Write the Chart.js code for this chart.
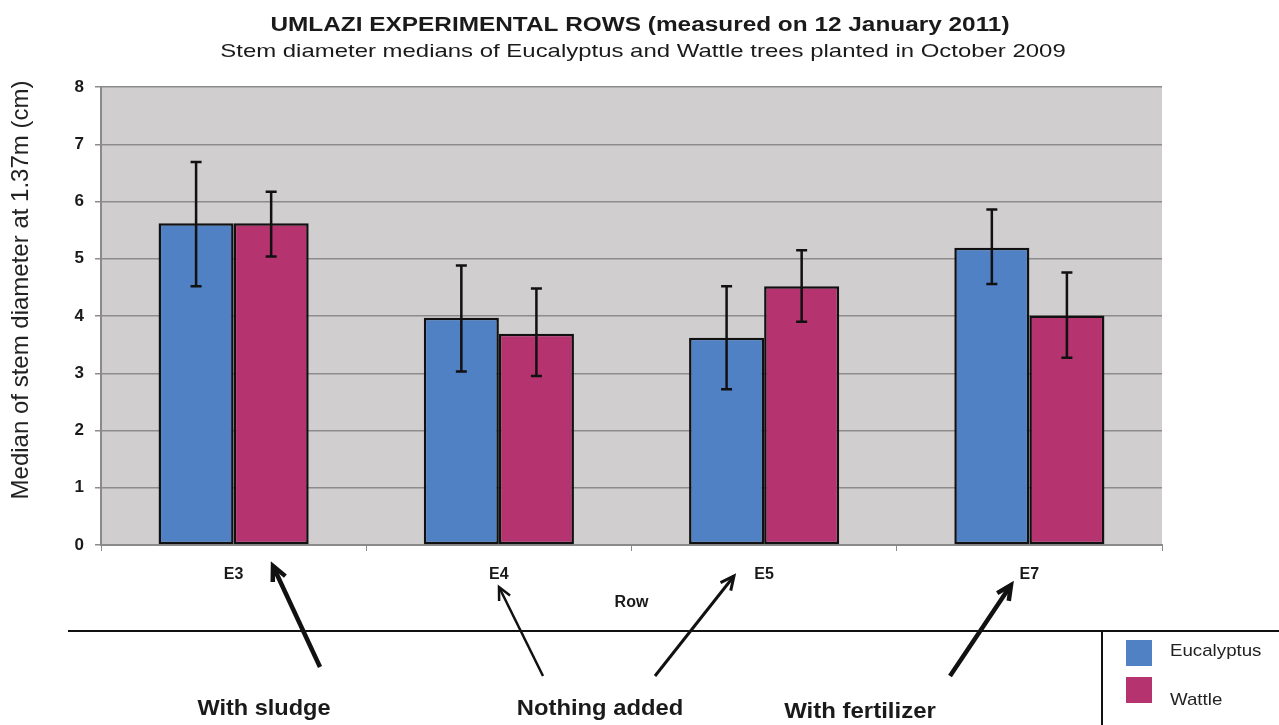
<!DOCTYPE html>
<html>
<head>
<meta charset="utf-8">
<title>Umlazi experimental rows</title>
<script src="https://cdn.jsdelivr.net/npm/chart.js@4.4.1/dist/chart.umd.min.js"></script>
<style>
  html, body { margin: 0; padding: 0; background: #fff; }
  #wrap { position: relative; width: 1279px; height: 725px; }
</style>
</head>
<body>
<div id="wrap"><canvas id="chart" width="1279" height="725"></canvas></div>
<script>
// ── Data ───────────────────────────────────────────────────
const rows = ['E3', 'E4', 'E5', 'E7'];
const eucalyptus = [5.62, 3.97, 3.62, 5.19];
const wattle     = [5.62, 3.69, 4.52, 4.01];
const eucLow     = [4.52, 3.03, 2.72, 4.56];
const eucHigh    = [6.69, 4.88, 4.52, 5.86];
const wattleLow  = [5.04, 2.95, 3.90, 3.27];
const wattleHigh = [6.17, 4.48, 5.15, 4.76];
const yTicks = [0, 1, 2, 3, 4, 5, 6, 7, 8];

const titleText = 'UMLAZI EXPERIMENTAL ROWS (measured on 12 January 2011)';
const subtitleText = 'Stem diameter medians of Eucalyptus and Wattle trees planted in October 2009';
const yTitleText = 'Median of stem diameter at 1.37m (cm)';
const treatments = ['With sludge', 'Nothing added', 'With fertilizer'];

const BLUE = '#4f81c4';
const PLUM = '#b5346f';
const PLOT_BG = '#d0cece';
const FONT = "'Liberation Sans', Arial, sans-serif";

// draw text squeezed/stretched horizontally (source image is widened)
function wideText(ctx, text, x, y, sx, align) {
  ctx.save();
  ctx.translate(x, y);
  ctx.scale(sx, 1);
  ctx.textAlign = align || 'center';
  ctx.textBaseline = 'alphabetic';
  ctx.fillText(text, 0, 0);
  ctx.restore();
}

function arrow(ctx, x1, y1, x2, y2, w, head) {
  const a = Math.atan2(y2 - y1, x2 - x1);
  ctx.save();
  ctx.strokeStyle = '#111';
  ctx.lineWidth = w;
  ctx.lineCap = 'butt';
  ctx.beginPath();
  ctx.moveTo(x1, y1);
  ctx.lineTo(x2, y2);
  ctx.stroke();
  ctx.lineJoin = 'miter';
  ctx.beginPath();
  ctx.moveTo(x2 - head * Math.cos(a - 0.45), y2 - head * Math.sin(a - 0.45));
  ctx.lineTo(x2, y2);
  ctx.lineTo(x2 - head * Math.cos(a + 0.45), y2 - head * Math.sin(a + 0.45));
  ctx.stroke();
  ctx.restore();
}

// ── Plot background ────────────────────────────────────────
const plotBg = {
  id: 'plotBg',
  beforeDraw(chart) {
    const { ctx, chartArea: a } = chart;
    ctx.save();
    ctx.fillStyle = PLOT_BG;
    ctx.fillRect(a.left, a.top, a.right - a.left, a.bottom - a.top);
    ctx.restore();
  }
};

// ── Error bars ─────────────────────────────────────────────
const errorBars = {
  id: 'errorBars',
  afterDatasetsDraw(chart) {
    const { ctx, scales: { y } } = chart;
    const ranges = [[eucLow, eucHigh], [wattleLow, wattleHigh]];
    ctx.save();
    ctx.strokeStyle = '#111';
    ctx.lineWidth = 2.5;
    chart.data.datasets.forEach((ds, di) => {
      const meta = chart.getDatasetMeta(di);
      meta.data.forEach((bar, i) => {
        const lo = y.getPixelForValue(ranges[di][0][i]);
        const hi = y.getPixelForValue(ranges[di][1][i]);
        ctx.beginPath();
        ctx.moveTo(bar.x, lo);
        ctx.lineTo(bar.x, hi);
        ctx.moveTo(bar.x - 5.5, lo); ctx.lineTo(bar.x + 5.5, lo);
        ctx.moveTo(bar.x - 5.5, hi); ctx.lineTo(bar.x + 5.5, hi);
        ctx.stroke();
      });
    });
    ctx.restore();
  }
};

// ── Titles, annotations, legend box ────────────────────────
const decorations = {
  id: 'decorations',
  afterDraw(chart) {
    const ctx = chart.ctx;
    ctx.save();
    ctx.fillStyle = '#1a1a1a';
    ctx.font = `bold 19.5px ${FONT}`;
    wideText(ctx, titleText, 640, 31, 1.25);
    ctx.font = `19px ${FONT}`;
    wideText(ctx, subtitleText, 643, 57, 1.26);

    // y axis title (sits a bit above the plot centre in the original)
    ctx.save();
    ctx.fillStyle = '#222';
    ctx.font = `24px ${FONT}`;
    ctx.translate(21, 290);
    ctx.rotate(-Math.PI / 2);
    ctx.textAlign = 'center';
    ctx.textBaseline = 'middle';
    ctx.fillText(yTitleText, 0, 0);
    ctx.restore();

    // separator line and legend frame
    ctx.strokeStyle = '#111';
    ctx.lineWidth = 2;
    ctx.beginPath();
    ctx.moveTo(68, 631); ctx.lineTo(1279, 631);
    ctx.moveTo(1102, 631); ctx.lineTo(1102, 725);
    ctx.stroke();

    // arrows pointing at the rows
    arrow(ctx, 320, 667, 273, 566, 4.5, 16);
    arrow(ctx, 543, 676, 499, 587, 2.5, 14);
    arrow(ctx, 655, 676, 734, 576, 3, 15);
    arrow(ctx, 950, 676, 1011, 585, 4.5, 16);

    ctx.fillStyle = '#1a1a1a';
    ctx.font = `bold 22px ${FONT}`;
    wideText(ctx, treatments[0], 264, 715, 1.07);
    wideText(ctx, treatments[1], 600, 715, 1.08);
    wideText(ctx, treatments[2], 860, 718, 1.09);

    // legend
    ctx.font = `17px ${FONT}`;
    chart.data.datasets.forEach((ds, i) => {
      const top = 640 + i * 37;
      ctx.fillStyle = ds.backgroundColor;
      ctx.fillRect(1126, top, 26, 26);
      ctx.fillStyle = '#222';
      wideText(ctx, ds.label, 1170, top + 16 + i * 12, 1.1, 'left');
    });
    ctx.restore();
  }
};

// ── Chart ──────────────────────────────────────────────────
new Chart(document.getElementById('chart'), {
  type: 'bar',
  data: {
    labels: rows,
    datasets: [
      {
        label: 'Eucalyptus',
        data: eucalyptus,
        backgroundColor: BLUE,
        borderColor: '#111',
        borderWidth: 2.5,
        borderSkipped: false,
      },
      {
        label: 'Wattle',
        data: wattle,
        backgroundColor: PLUM,
        borderColor: '#111',
        borderWidth: 2.5,
        borderSkipped: false,
      }
    ]
  },
  options: {
    responsive: false,
    animation: false,
    devicePixelRatio: 1,
    layout: { padding: { top: 87, right: 117, bottom: 100, left: 0 } },
    datasets: { bar: { categoryPercentage: 0.566, barPercentage: 1 } },
    plugins: {
      legend: { display: false },
      tooltip: { enabled: false }
    },
    scales: {
      x: {
        afterFit: s => { s.height = 80; },
        grid: { drawOnChartArea: false, drawTicks: true, tickLength: 6, color: '#8a8a8a', offset: true },
        border: { color: '#8a8a8a', width: 2 },
        ticks: { color: '#1a1a1a', padding: 14, font: { family: FONT, size: 16, weight: 'bold' } },
        title: {
          display: true, text: 'Row', color: '#1a1a1a',
          padding: { top: 0, bottom: 13 },
          font: { family: FONT, size: 16, weight: 'bold' }
        }
      },
      y: {
        min: 0, max: 8,
        afterFit: s => { s.width = 101; },
        afterBuildTicks: s => { s.ticks = yTicks.map(v => ({ value: v })); },
        grid: { color: '#8c8c8c', lineWidth: 1.5, tickLength: 6 },
        border: { color: '#8a8a8a', width: 2 },
        ticks: { color: '#1a1a1a', padding: 11, font: { family: FONT, size: 17, weight: 'bold' } }
      }
    }
  },
  plugins: [plotBg, errorBars, decorations]
});
</script>
</body>
</html>
